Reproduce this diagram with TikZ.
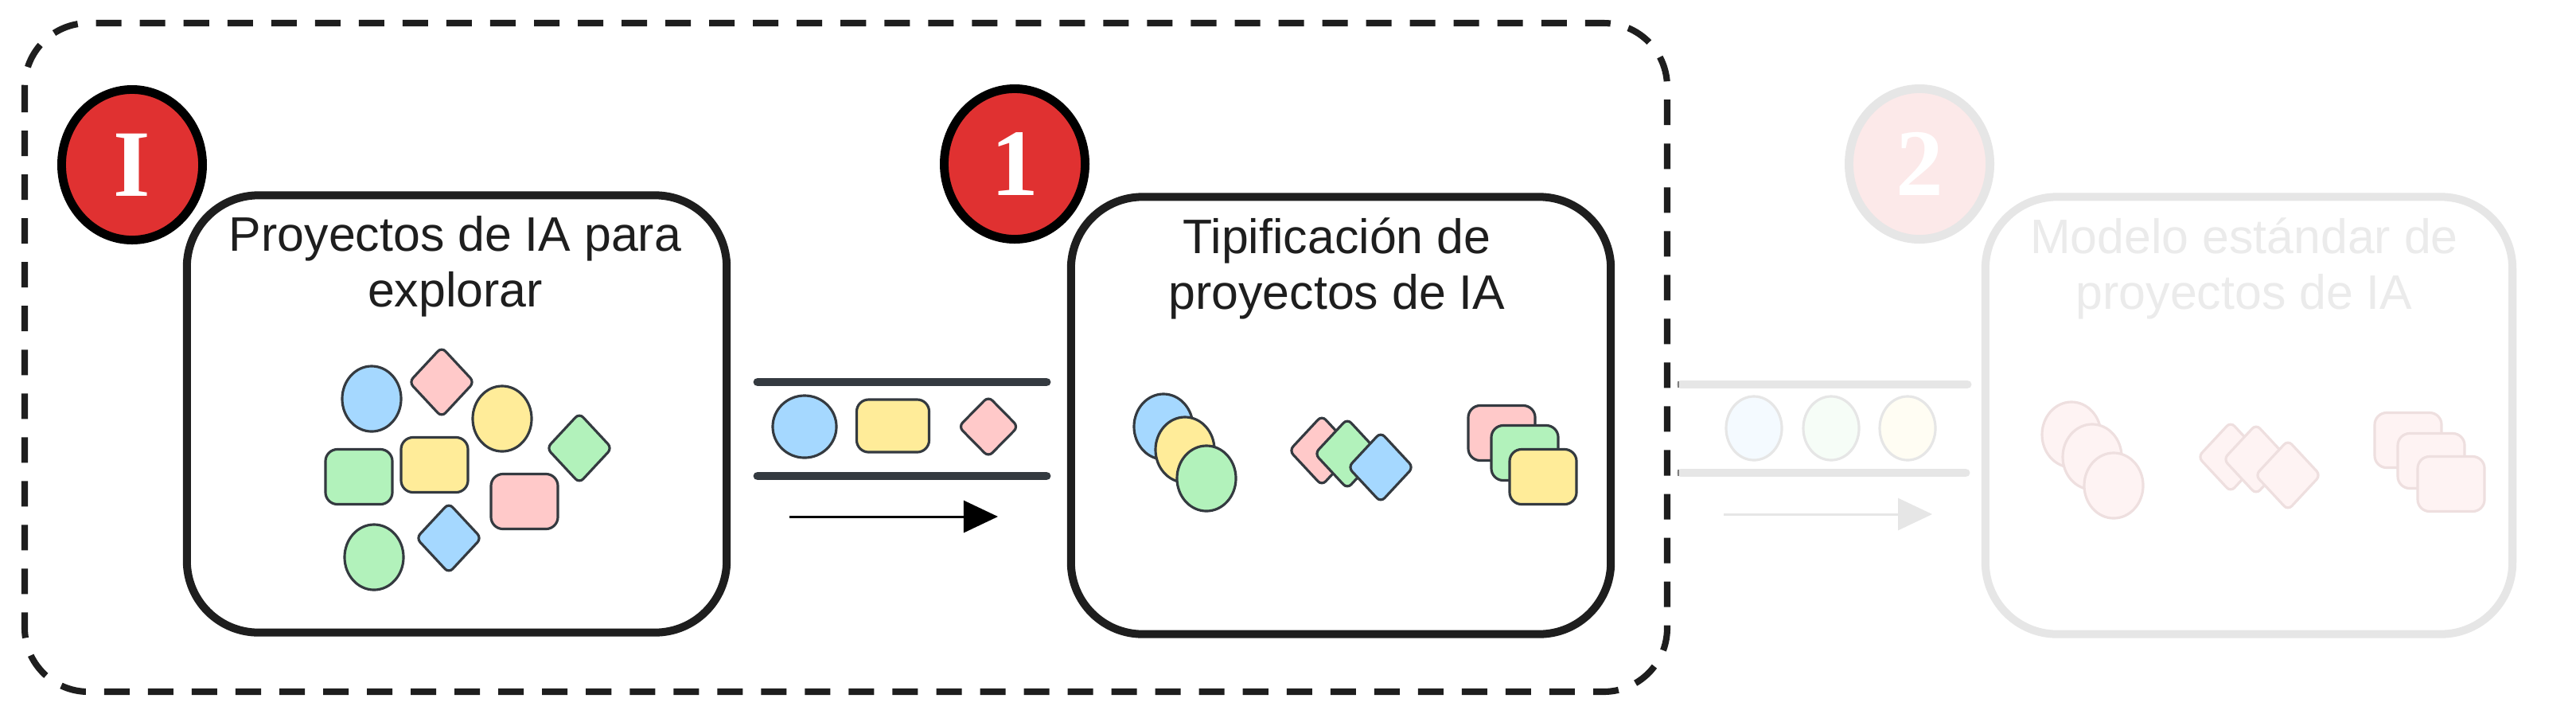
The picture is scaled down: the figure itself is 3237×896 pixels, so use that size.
\documentclass[tikz,border=0pt]{standalone}
\usepackage{fontspec}
\setmainfont{Liberation Sans}
\newfontfamily\badgefont{Liberation Serif}
\usepackage{xcolor}
\usetikzlibrary{arrows.meta,shapes.geometric}
\definecolor{ink}{HTML}{1E1E1E}
\definecolor{shapeink}{HTML}{343A40}
\definecolor{exred}{HTML}{E03131}
\definecolor{exblue}{HTML}{A5D8FF}
\definecolor{expink}{HTML}{FFC9C9}
\definecolor{exyellow}{HTML}{FFEC99}
\definecolor{exgreen}{HTML}{B2F2BB}
\definecolor{fadeline}{HTML}{E6E6E6}
\definecolor{fadetext}{HTML}{EBEBEB}
\definecolor{fadered}{HTML}{FCE9E9}
\definecolor{fadefill}{HTML}{FEF3F3}
\definecolor{fadeedge}{HTML}{EEDFDF}
\tikzstyle{stage}=[draw=ink, line width=2.85pt, rounded corners=0.9cm,% big white card
minimum width=6.78cm, minimum height=5.49cm]
\tikzstyle{title}=[align=center, anchor=north, inner sep=0pt, text=ink,
font=\fontsize{17.3}{19.8}\selectfont]
\tikzstyle{badge}=[ellipse, draw=black, fill=exred, line width=3.1pt, text=white,
minimum width=1.77cm, minimum height=1.89cm, inner sep=0pt,
font=\badgefont\bfseries\fontsize{34}{34}\selectfont]
\tikzstyle{blob}=[draw=shapeink, line width=0.9pt, inner sep=0pt]
\tikzstyle{oval}=[blob, ellipse, minimum width=0.74cm, minimum height=0.82cm]
\tikzstyle{rhomb}=[blob, diamond, rounded corners=2pt, minimum width=0.83cm, minimum height=0.89cm]
\tikzstyle{card}=[blob, rectangle, rounded corners=0.15cm, minimum width=0.84cm, minimum height=0.69cm]
\tikzstyle{belt}=[line width=3.1pt, line cap=round, draw=shapeink]
\tikzstyle{flow}=[line width=0.85pt, -{Triangle[length=0.43cm,width=0.4cm]}]
\tikzstyle{frame}=[draw=ink, line width=2.3pt, rounded corners=0.8cm,
dash pattern=on 0.32cm off 0.23cm]
\tikzstyle{faded}=[draw=fadeedge, fill=fadefill]

\begin{document}
\begin{tikzpicture}[x=0.01cm, y=-0.01cm]
\useasboundingbox (0,0) rectangle (3237,896);
\fill[white] (0,0) rectangle (3237,896);

\draw[frame] (31,29) rectangle (2095,869);

% stage I
\node[stage] (s1) at (574,520) {};
\node[badge] (bI) at (166,207) {I};
\node[title] (t1) at (572,271) {Proyectos de IA para\\explorar};
\node[oval, fill=exblue] (o1) at (467,501) {};
\node[rhomb, fill=expink] (r1) at (555,480) {};
\node[oval, fill=exyellow] (o2) at (631,526) {};
\node[rhomb, fill=exgreen] (r2) at (728,563) {};
\node[card, fill=exgreen] (c1) at (451,599) {};
\node[card, fill=exyellow] (c2) at (546,584) {};
\node[card, fill=expink] (c3) at (659,630) {};
\node[oval, fill=exgreen] (o3) at (470,700) {};
\node[rhomb, fill=exblue] (r3) at (564,676) {};

% belt 1
\coordinate (b1a) at (952,480);
\coordinate (b1b) at (1315,480);
\coordinate (b1c) at (952,598);
\coordinate (b1d) at (1315,598);
\draw[belt] (b1a) -- (b1b);
\draw[belt] (b1c) -- (b1d);
\node[oval, fill=exblue, minimum width=0.8cm, minimum height=0.78cm] (p1) at (1011,536) {};
\node[card, fill=exyellow, minimum width=0.91cm, minimum height=0.66cm] (p2) at (1122,535) {};
\node[rhomb, fill=expink, minimum width=0.76cm, minimum height=0.77cm] (p3) at (1242,536) {};
\coordinate (a1s) at (992,649);
\coordinate (a1e) at (1254,649);
\draw[flow] (a1s) -- (a1e);

% stage 1
\node[stage] (s2) at (1685,522) {};
\node[badge] (b1) at (1275,206) {1};
\node[title] (t2) at (1680,273) {Tipificación de\\proyectos de IA};
\node[oval, fill=exblue] (k1) at (1462,536) {};
\node[oval, fill=exyellow] (k2) at (1489,565) {};
\node[oval, fill=exgreen] (k3) at (1516,601) {};
\node[rhomb, fill=expink] (k4) at (1661,566) {};
\node[rhomb, fill=exgreen] (k5) at (1693,570) {};
\node[rhomb, fill=exblue] (k6) at (1735,587) {};
\node[card, fill=expink] (k7) at (1887,544) {};
\node[card, fill=exgreen] (k8) at (1916,569) {};
\node[card, fill=exyellow] (k9) at (1939,599) {};

% belt 2 (faded)
\coordinate (b2a) at (2112,483);
\coordinate (b2b) at (2472,483);
\coordinate (b2c) at (2112,594);
\coordinate (b2d) at (2470,594);
\draw[belt, draw=fadeline] (b2a) -- (b2b);
\draw[belt, draw=fadeline] (b2c) -- (b2d);
\draw[line width=0.8pt, draw=gray] ([xshift=-0.03cm]b2a) -- ++(0,-4) ([xshift=-0.03cm]b2a) -- ++(0,4);
\draw[line width=0.8pt, draw=gray] ([xshift=-0.03cm]b2c) -- ++(0,-4) ([xshift=-0.03cm]b2c) -- ++(0,4);
\node[oval, draw=fadeline, fill=exblue!12, minimum width=0.7cm, minimum height=0.8cm] (q1) at (2204,538) {};
\node[oval, draw=fadeline, fill=exgreen!12, minimum width=0.7cm, minimum height=0.8cm] (q2) at (2301,538) {};
\node[oval, draw=fadeline, fill=exyellow!12, minimum width=0.7cm, minimum height=0.8cm] (q3) at (2397,538) {};
\coordinate (a2s) at (2166,646);
\coordinate (a2e) at (2428,646);
\draw[flow, draw=fadeline, fill=fadeline] (a2s) -- (a2e);

% stage 2 (faded)
\node[stage, draw=fadeline, minimum width=6.62cm] (s3) at (2826,522) {};
\node[badge, draw=fadeline, fill=fadered] (b2) at (2412,206) {2};
\node[title, text=fadetext] (t3) at (2820,273) {Modelo estándar de\\proyectos de IA};
\node[oval, faded] (m1) at (2603,546) {};
\node[oval, faded] (m2) at (2629,574) {};
\node[oval, faded] (m3) at (2656,610) {};
\node[rhomb, faded] (m4) at (2803,574) {};
\node[rhomb, faded] (m5) at (2835,577) {};
\node[rhomb, faded] (m6) at (2875,597) {};
\node[card, faded] (m7) at (3026,553) {};
\node[card, faded] (m8) at (3055,579) {};
\node[card, faded] (m9) at (3080,608) {};
\end{tikzpicture}
\end{document}
